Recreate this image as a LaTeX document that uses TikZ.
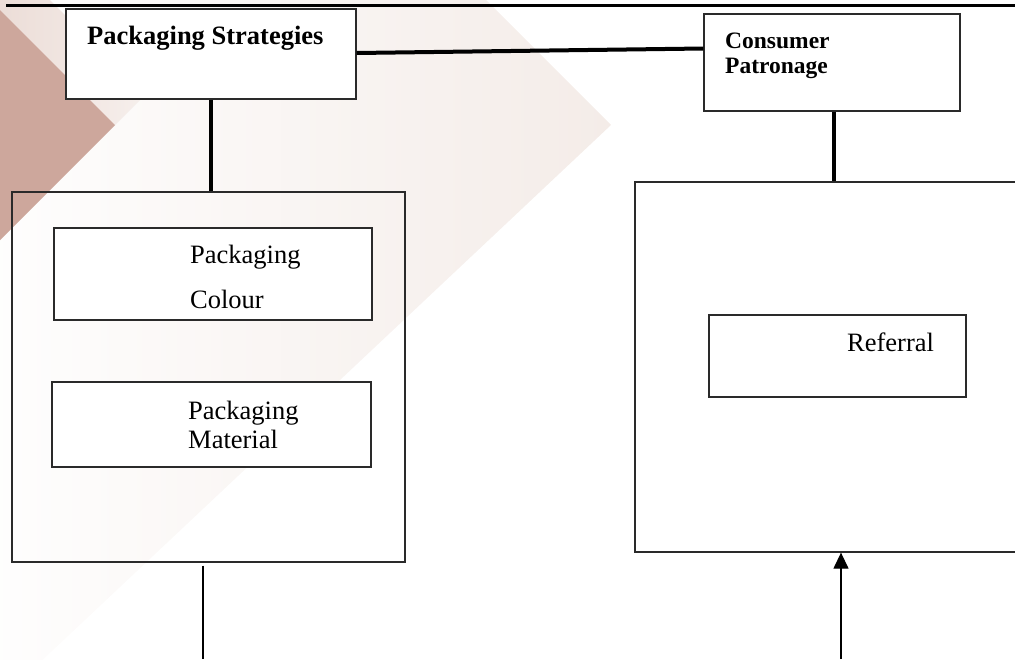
\documentclass[tikz,border=0pt]{standalone}
\usepackage{fontspec}
\setmainfont{Liberation Serif}
\usetikzlibrary{arrows.meta,calc}

\definecolor{boxline}{HTML}{2A2A2A}
\definecolor{pinkbg}{HTML}{F4ECE8}
\definecolor{pinkmid}{HTML}{EBDCD6}
\definecolor{pinklight}{HTML}{F6EFEC}
\definecolor{brownbg}{HTML}{CDA79C}

\tikzset{
  box/.style={draw=boxline, line width=1.3pt, rectangle, inner sep=0pt},
  whitebox/.style={box, fill=white},
  heavy/.style={line width=4pt, black},
  thinline/.style={line width=1.3pt, black},
  lbl/.style={inner sep=0pt, anchor=base west, font=\fontsize{26.5}{30}\selectfont},
  blbl/.style={lbl, font=\fontsize{26.5}{30}\selectfont\bfseries},
  slbl/.style={lbl, font=\fontsize{23.5}{25}\selectfont\bfseries},
}

\begin{document}
\begin{tikzpicture}[x=1pt, y=-1pt]
  \clip (0,0) rectangle (1015,659);

  % decorative background wedges
  \shade[left color=white, right color=pinkbg]
    (-50,-50) -- (436,-50) -- (611,125) -- (-50,747) -- cycle;
  \shade[left color=pinkmid, right color=pinklight]
    (-10,-60) -- (145,95) -- (-10,250) -- cycle;
  \fill[brownbg] (-10,0) -- (115,125) -- (-10,250) -- cycle;

  % top rule
  \coordinate (ruleL) at (6,5);
  \coordinate (ruleR) at (1015,5);
  \draw[line width=3pt, black] (ruleL) -- (ruleR);

  % boxes
  \node[whitebox, minimum width=290pt, minimum height=90pt] (ps) at (211,54) {};
  \node[whitebox, minimum width=256pt, minimum height=97pt] (cp) at (832,62.5) {};
  \node[box, minimum width=393pt, minimum height=370pt] (lo) at (208.5,377) {};
  \node[whitebox, minimum width=318pt, minimum height=92pt] (pc) at (213,274) {};
  \node[whitebox, minimum width=319pt, minimum height=85pt] (pm) at (211.5,424.5) {};
  \node[whitebox, minimum width=395pt, minimum height=370pt] (ro) at (832.5,367) {};
  \node[whitebox, minimum width=257pt, minimum height=82pt] (rf) at (837.5,356) {};

  % labels
  \node[blbl] (tps) at (87,44) {Packaging Strategies};
  \node[slbl] (tcp1) at (725,48) {Consumer};
  \node[slbl] (tcp2) at (725,73) {Patronage};
  \node[lbl] (tpc1) at (190,263) {Packaging};
  \node[lbl] (tpc2) at (190,308) {Colour};
  \node[lbl] (tpm1) at (188,419) {Packaging};
  \node[lbl] (tpm2) at (188,448) {Material};
  \node[lbl] (trf) at (847,351) {Referral};

  % heavy connectors
  \draw[heavy] ([yshift=1pt]ps.east) -- ([yshift=14pt]cp.west);
  \draw[heavy] (ps.south) -- (ps.south |- lo.north);
  \draw[heavy] ([xshift=2pt]cp.south) -- ([xshift=2pt]cp.south |- ro.north);

  % lower connectors
  \coordinate (lend) at (203,659);
  \draw[thinline] ($(lo.south -| lend)+(0,3)$) -- (lend);
  \coordinate (rstart) at (841,659);
  \draw[thinline, -{Triangle[length=16pt,width=15pt]}] (rstart) -- (rstart |- ro.south);
\end{tikzpicture}
\end{document}
